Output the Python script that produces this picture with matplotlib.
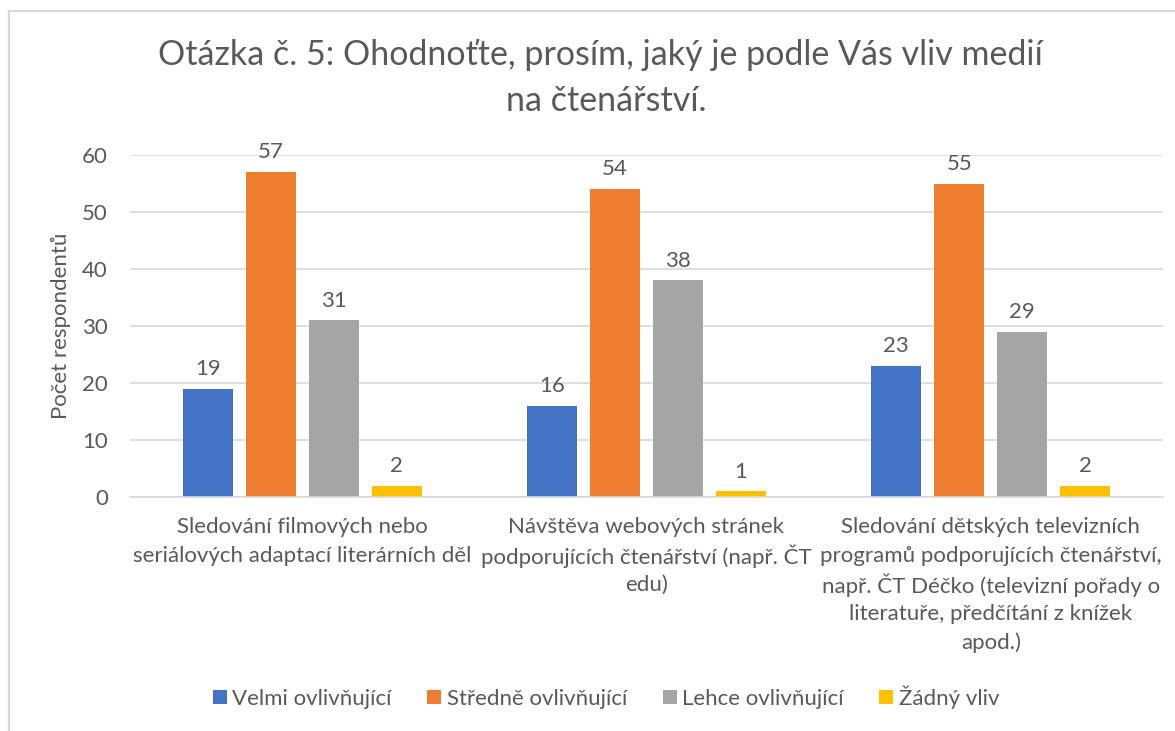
import numpy as np
import matplotlib.pyplot as plt
from matplotlib.lines import Line2D

plt.rcParams['font.family'] = ['Lato', 'DejaVu Sans']

categories = [
    "Sledování filmových nebo\nseriálových adaptací literárních děl",
    "Návštěva webových stránek\npodporujících čtenářství (např. ČT\nedu)",
    "Sledování dětských televizních\nprogramů podporujících čtenářství,\nnapř. ČT Déčko (televizní pořady o\nliteratuře, předčítání z knížek\napod.)",
]
series_names = ["Velmi ovlivňující", "Středně ovlivňující", "Lehce ovlivňující", "Žádný vliv"]
velmi = [19, 16, 23]
stredne = [57, 54, 55]
lehce = [31, 38, 29]
zadny = [2, 1, 2]
colors = ["#4472C4", "#ED7D31", "#A5A5A5", "#FFC000"]

text_col = "#595959"
W, H = 1175, 731

fig = plt.figure(figsize=(W / 100, H / 100), dpi=100)
ax = fig.add_axes([130 / W, 1 - 497 / H, (1163 - 130) / W, (497 - 155) / H])

x = np.arange(len(categories))
width = 0.145
step = 0.183
for i, (vals, name) in enumerate(zip([velmi, stredne, lehce, zadny], series_names)):
    pos = x + (i - 1.5) * step
    bars = ax.bar(pos, vals, width, color=colors[i], label=name)
    for b, v in zip(bars, vals):
        ax.annotate(str(v), (b.get_x() + b.get_width() / 2, v), xytext=(0, 7),
                    textcoords="offset points", ha="center", va="bottom",
                    fontsize=16, color=text_col)

ax.set_xlim(-0.5, 2.5)
ax.set_ylim(0, 60)
ax.set_yticks(range(0, 61, 10))
ax.yaxis.grid(True, color="#D9D9D9", linewidth=1.2)
ax.set_axisbelow(True)
for s in ["top", "right", "left"]:
    ax.spines[s].set_visible(False)
ax.spines["bottom"].set_color("#D9D9D9")
ax.spines["bottom"].set_linewidth(1.2)
ax.tick_params(axis="both", length=0, colors=text_col, labelsize=16)
ax.tick_params(axis="y", pad=16)
ax.set_xticks([])
ax.set_ylabel("Počet respondentů", fontsize=16, color=text_col, labelpad=8)

# category labels, one text per line so accents do not change spacing
for xi, lab in zip(x, categories):
    for j, line in enumerate(lab.split("\n")):
        fig.text(ax.transData.transform((xi, 0))[0] / W, 1 - (527 + 29 * j) / H, line,
                 ha="center", va="center", fontsize=16, color=text_col)

fig.text(600 / W, 1 - 55 / H, "Otázka č. 5: Ohodnoťte, prosím, jaký je podle Vás vliv medií",
         ha="center", va="center", fontsize=24.5, color=text_col)
fig.text(606 / W, 1 - 101 / H, "na čtenářství.",
         ha="center", va="center", fontsize=24.5, color=text_col)

leg = fig.legend(loc="center", bbox_to_anchor=(606 / W, 1 - 697 / H), ncol=4,
                 frameon=False, fontsize=16, handlelength=0.63, handleheight=0.63,
                 handletextpad=0.25, columnspacing=1.6)
for t in leg.get_texts():
    t.set_color(text_col)

# chart area border (left and top only visible)
fig.add_artist(Line2D([9 / W, 9 / W], [0, 1 - 11 / H], transform=fig.transFigure,
                      color="#D9D9D9", linewidth=1.6))
fig.add_artist(Line2D([9 / W, 1], [1 - 11 / H, 1 - 11 / H], transform=fig.transFigure,
                      color="#D9D9D9", linewidth=1.6))

fig.savefig("out.png", dpi=100)
